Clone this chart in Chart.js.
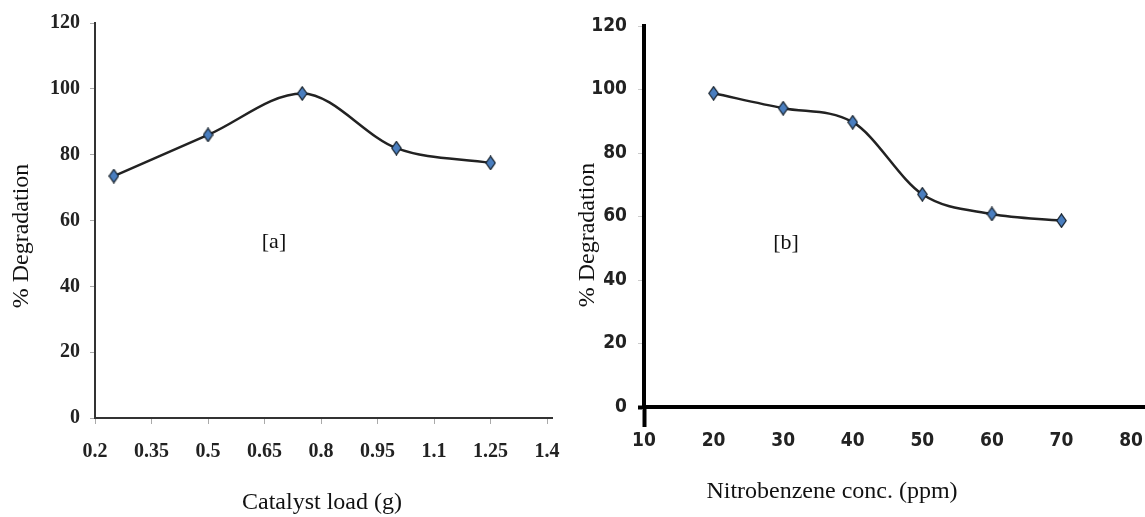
<!DOCTYPE html>
<html>
<head>
<meta charset="utf-8">
<script src="https://cdn.jsdelivr.net/npm/chart.js@4.4.0/dist/chart.umd.min.js"></script>
<style>
  html, body { margin: 0; padding: 0; background: #fff; }
  #wrap { position: relative; width: 1145px; height: 517px; }
  .box { position: absolute; top: 0; height: 517px; }
  #boxA { left: 0; width: 575px; }
  #boxB { left: 575px; width: 570px; }
</style>
</head>
<body>
<div id="wrap">
  <div class="box" id="boxA"><canvas id="chartA"></canvas></div>
  <div class="box" id="boxB"><canvas id="chartB"></canvas></div>
</div>
<script>
// [a] effect of catalyst load
var catalystLoad = [0.25, 0.5, 0.75, 1.0, 1.25];
var degradationA = [73.5, 86, 98.6, 82, 77.5];
var xTicksA = [0.2, 0.35, 0.5, 0.65, 0.8, 0.95, 1.1, 1.25, 1.4];

// [b] effect of nitrobenzene concentration
var nbConc = [20, 30, 40, 50, 60, 70];
var degradationB = [98.8, 94.1, 89.7, 67, 60.8, 58.7];
var xTicksB = [10, 20, 30, 40, 50, 60, 70, 80];

var yTicks = [0, 20, 40, 60, 80, 100, 120];

var yTitle = '% Degradation';
var xTitleA = 'Catalyst load (g)';
var xTitleB = 'Nitrobenzene conc. (ppm)';

// tall diamond marker like the excel one
function diamond() {
  var c = document.createElement('canvas');
  c.width = 11; c.height = 15;
  var g = c.getContext('2d');
  g.beginPath();
  g.moveTo(5.5, 0.8); g.lineTo(10.2, 7.5); g.lineTo(5.5, 14.2); g.lineTo(0.8, 7.5);
  g.closePath();
  g.fillStyle = '#4a7ebf';
  g.fill();
  g.lineWidth = 1.2;
  g.strokeStyle = '#15202b';
  g.stroke();
  return c;
}
var marker = diamond();

// extra texts (axis titles, panel letters)
var textPlugin = {
  id: 'texts',
  afterDraw: function (chart, args, opts) {
    var ctx = chart.ctx;
    (opts.items || []).forEach(function (t) {
      ctx.save();
      ctx.translate(t.x, t.y);
      if (t.rot) ctx.rotate(t.rot);
      ctx.font = t.font;
      ctx.fillStyle = '#111';
      ctx.textAlign = 'center';
      ctx.textBaseline = 'middle';
      ctx.fillText(t.text, 0, 0);
      ctx.restore();
    });
  }
};

function toPoints(xs, ys) {
  return xs.map(function (x, i) { return { x: x, y: ys[i] }; });
}

function lineDataset(points) {
  return {
    data: points,
    borderColor: '#222',
    borderWidth: 2.5,
    cubicInterpolationMode: 'monotone',
    pointStyle: marker,
    pointRadius: 6,
    fill: false
  };
}

var serif = "'Liberation Serif', 'Times New Roman', serif";

// chart a
new Chart(document.getElementById('chartA'), {
  type: 'line',
  data: { datasets: [lineDataset(toPoints(catalystLoad, degradationA))] },
  options: {
    responsive: true,
    maintainAspectRatio: false,
    animation: false,
    layout: { autoPadding: false, padding: { left: 0, top: 23, right: 23, bottom: 0 } },
    plugins: {
      legend: { display: false },
      tooltip: { enabled: false },
      texts: {
        items: [
          { text: yTitle, x: 22, y: 236, rot: -Math.PI / 2, font: '24px ' + serif },
          { text: xTitleA, x: 322, y: 503, font: '24px ' + serif },
          { text: '[a]', x: 274, y: 242, font: '22px ' + serif }
        ]
      }
    },
    scales: {
      x: {
        type: 'linear',
        min: 0.2,
        max: 1.413,
        afterBuildTicks: function (s) { s.ticks = xTicksA.map(function (v) { return { value: v }; }); },
        afterFit: function (s) { s.height = 99; s.paddingLeft = 0; s.paddingRight = 0; },
        grid: { drawOnChartArea: false, tickLength: 6, tickColor: '#aaa', tickWidth: 1 },
        border: { color: '#333', width: 2 },
        ticks: {
          padding: 16, color: '#222', autoSkip: false, maxRotation: 0,
          font: { family: serif, size: 20, weight: 'bold' },
          callback: function (v) { return String(v); }
        }
      },
      y: {
        min: 0,
        max: 120,
        afterBuildTicks: function (s) { s.ticks = yTicks.map(function (v) { return { value: v }; }); },
        afterFit: function (s) { s.width = 95; },
        grid: { drawOnChartArea: false, tickLength: 5, tickColor: '#aaa', tickWidth: 1 },
        border: { color: '#333', width: 2 },
        ticks: {
          padding: 10, color: '#222',
          font: { family: serif, size: 20, weight: 'bold' }
        }
      }
    }
  },
  plugins: [textPlugin]
});

var narrow = "'Liberation Sans Narrow', 'DejaVu Sans Condensed', sans-serif";

// chart b
new Chart(document.getElementById('chartB'), {
  type: 'line',
  data: { datasets: [lineDataset(toPoints(nbConc, degradationB))] },
  options: {
    responsive: true,
    maintainAspectRatio: false,
    animation: false,
    layout: { autoPadding: false, padding: { left: 0, top: 26, right: 0, bottom: 0 } },
    plugins: {
      legend: { display: false },
      tooltip: { enabled: false },
      texts: {
        items: [
          { text: yTitle, x: 13, y: 235, rot: -Math.PI / 2, font: '24px ' + serif },
          { text: xTitleB, x: 257, y: 492, font: '24px ' + serif },
          { text: '[b]', x: 211, y: 243, font: '22px ' + serif }
        ]
      }
    },
    scales: {
      x: {
        type: 'linear',
        min: 10,
        max: 82,
        afterBuildTicks: function (s) { s.ticks = xTicksB.map(function (v) { return { value: v }; }); },
        afterFit: function (s) { s.height = 110; s.paddingLeft = 0; s.paddingRight = 0; },
        grid: {
          drawOnChartArea: false,
          tickLength: 20,
          tickColor: function (c) { return c.index === 0 ? '#000' : 'rgba(0,0,0,0)'; },
          tickWidth: function (c) { return c.index === 0 ? 4 : 1; }
        },
        border: { color: '#000', width: 4 },
        ticks: {
          padding: 3, color: '#222', autoSkip: false, maxRotation: 0,
          font: { family: narrow, size: 19, weight: 'bold' }
        }
      },
      y: {
        min: 0,
        max: 120,
        afterBuildTicks: function (s) { s.ticks = yTicks.map(function (v) { return { value: v }; }); },
        afterFit: function (s) { s.width = 69; },
        grid: {
          drawOnChartArea: false,
          tickLength: 6,
          tickColor: function (c) { return c.index === 0 ? '#000' : '#ccc'; },
          tickWidth: function (c) { return c.index === 0 ? 4 : 1; }
        },
        border: { color: '#000', width: 4 },
        ticks: {
          padding: 11, color: '#222',
          font: { family: narrow, size: 19, weight: 'bold' }
        }
      }
    }
  },
  plugins: [textPlugin]
});
</script>
</body>
</html>
